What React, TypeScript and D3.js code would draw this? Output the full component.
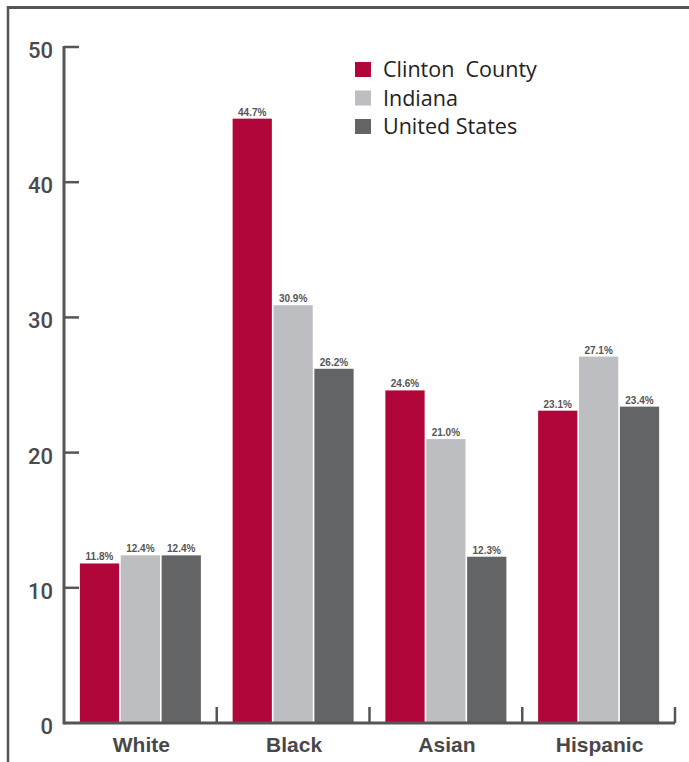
import React from "react";
import * as d3 from "d3";

const categories = ["White", "Black", "Asian", "Hispanic"];
const seriesNames = ["Clinton County", "Indiana", "United States"];
const clintonCounty = [11.8, 44.7, 24.6, 23.1];
const indiana = [12.4, 30.9, 21.0, 27.1];
const unitedStates = [12.4, 26.2, 12.3, 23.4];
const yTicks = [0, 10, 20, 30, 40, 50];
const colors = ["#B10639", "#BDBEC1", "#636466"];

const W = 689;
const H = 762;
const x0 = 64, x1 = 675, yTop = 47, yBot = 723;

export default function App() {
  const series = [clintonCounty, indiana, unitedStates];
  const y = d3.scaleLinear().domain([0, 50]).range([yBot, yTop]);
  const xb = d3.scaleBand().domain(categories).range([x0, x1]).padding(0);
  const groupW = 121;
  const xs = d3.scaleBand().domain(seriesNames).range([0, groupW]).paddingInner(0.04);
  const axisColor = "#555557";
  return (
    <svg width={W} height={H} style={{ position: "absolute", left: 0, top: 0 }}>
      <rect x={0} y={0} width={W} height={H} fill="#fff" />
      {/* frame */}
      <line x1={8} y1={7.5} x2={W} y2={7.5} stroke={axisColor} strokeWidth={3} />
      <line x1={8} y1={6} x2={8} y2={H} stroke={axisColor} strokeWidth={2.5} />
      {/* bars */}
      {categories.map((c, i) => {
        const gx = (xb(c) as number) + (xb.bandwidth() - groupW) / 2;
        return (
          <g key={c}>
            {series.map((s, j) => {
              const bx = gx + (xs(seriesNames[j]) as number);
              const v = s[i];
              return (
                <g key={j}>
                  <rect x={bx} y={y(v)} width={xs.bandwidth()} height={yBot - y(v)} fill={colors[j]} />
                  <text x={bx + xs.bandwidth() / 2} y={y(v) - 3} textAnchor="middle" fontFamily="Liberation Sans, Arial, sans-serif" fontWeight="bold" fontSize={10} fill="#555">
                    {v.toFixed(1) + "%"}
                  </text>
                </g>
              );
            })}
            <text x={(xb(c) as number) + xb.bandwidth() / 2 + 1} y={752} textAnchor="middle" fontFamily="Liberation Sans, Arial, sans-serif" fontWeight="bold" fontSize={21} fill="#48484a">
              {c}
            </text>
          </g>
        );
      })}
      {/* y axis */}
      <line x1={x0} y1={yTop - 1} x2={x0} y2={yBot + 1.5} stroke={axisColor} strokeWidth={3} />
      {yTicks.map((t) => (
        <g key={t}>
          {t > 0 && <line x1={x0} y1={y(t)} x2={x0 + 15} y2={y(t)} stroke={axisColor} strokeWidth={2.5} />}
          <text x={53} y={y(t) + 11} textAnchor="end" fontFamily="Roboto, Liberation Sans, sans-serif" fontWeight={500} fontSize={22} fill="#4a4a4c">
            {t}
          </text>
        </g>
      ))}
      {/* x axis */}
      <line x1={x0} y1={yBot} x2={x1} y2={yBot} stroke={axisColor} strokeWidth={3} />
      {categories.map((c) => {
        const tx = (xb(c) as number) + xb.bandwidth();
        return <line key={c} x1={tx} y1={yBot} x2={tx} y2={yBot - 16} stroke={axisColor} strokeWidth={2.5} />;
      })}
      {/* legend */}
      {seriesNames.map((n, j) => (
        <g key={n}>
          <rect x={355} y={62 + j * 28.5} width={16} height={15} fill={colors[j]} />
          <text x={383} y={77 + j * 28.5} fontFamily="Open Sans, sans-serif" fontSize={21.5} fill="#222">
            {n === "Clinton County" ? "Clinton\u00a0 County" : n}
          </text>
        </g>
      ))}
    </svg>
  );
}
